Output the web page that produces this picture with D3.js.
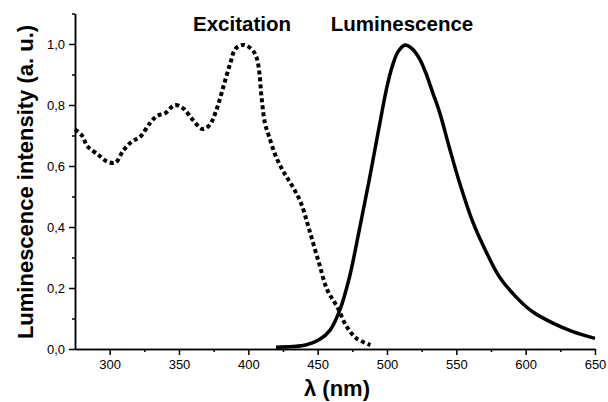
<!DOCTYPE html>
<html>
<head>
<meta charset="utf-8">
<script src="https://cdn.jsdelivr.net/npm/d3@7"></script>
<style>
  body { margin: 0; background: #fff; }
  svg { display: block; font-family: "Liberation Sans", Arial, sans-serif; }
  .axis path, .axis line { stroke: #000; stroke-width: 1.5; }
  .axis text { font-size: 13px; fill: #000; }
</style>
</head>
<body>
<svg width="608" height="402"></svg>
<script>
// excitation spectrum (dashed)
const excWavelength = [275, 280, 284, 292, 298, 304, 310, 316, 322, 329, 334, 340, 347, 353, 360, 367, 372, 377, 382, 387, 391, 397, 403, 406, 408, 409.5, 412, 415, 420, 426, 432, 438, 444, 451, 457, 464, 471, 478, 488]
const excIntensity  = [0.72, 0.70, 0.665, 0.636, 0.615, 0.611, 0.652, 0.68, 0.696, 0.74, 0.764, 0.773, 0.80, 0.789, 0.751, 0.721, 0.734, 0.784, 0.86, 0.937, 0.986, 0.997, 0.98, 0.955, 0.904, 0.827, 0.74, 0.696, 0.63, 0.576, 0.532, 0.478, 0.39, 0.281, 0.193, 0.139, 0.073, 0.035, 0.013]

// luminescence spectrum (solid)
const lumWavelength = [420, 432, 442, 451, 459, 466, 473, 480, 487, 494, 500, 504, 508, 513, 518, 523, 528, 533, 538, 545, 552, 562, 572, 581, 593, 605, 620, 634, 650]
const lumIntensity  = [0.006, 0.008, 0.014, 0.03, 0.062, 0.128, 0.237, 0.39, 0.55, 0.72, 0.86, 0.93, 0.975, 0.997, 0.985, 0.955, 0.905, 0.84, 0.775, 0.66, 0.55, 0.415, 0.314, 0.237, 0.171, 0.122, 0.084, 0.057, 0.035]

const xMajor = [300, 350, 400, 450, 500, 550, 600, 650]
const xMinor = [325, 375, 425, 475, 525, 575, 625]
const yMajor = [0, 0.2, 0.4, 0.6, 0.8, 1.0]
const yMinor = [0.1, 0.3, 0.5, 0.7, 0.9, 1.1]

const svg = d3.select('svg')

const x = d3.scaleLinear().domain([275, 650]).range([75, 595])
const y = d3.scaleLinear().domain([0, 1.1]).range([349, 13.5])

const comma = v => d3.format('.1f')(v).replace('.', ',')

// minor ticks first, then major axis on top
svg.append('g').attr('class', 'axis')
  .attr('transform', 'translate(0,349)')
  .call(d3.axisBottom(x).tickValues(xMinor).tickSize(3).tickSizeOuter(0).tickFormat(''))
svg.append('g').attr('class', 'axis')
  .attr('transform', 'translate(0,349)')
  .call(d3.axisBottom(x).tickValues(xMajor).tickSize(6).tickSizeOuter(0).tickPadding(5).tickFormat(d3.format('d')))

svg.append('g').attr('class', 'axis')
  .attr('transform', 'translate(75,0)')
  .call(d3.axisLeft(y).tickValues(yMinor).tickSize(3).tickSizeOuter(0).tickFormat(''))
svg.append('g').attr('class', 'axis')
  .attr('transform', 'translate(75,0)')
  .call(d3.axisLeft(y).tickValues(yMajor).tickSize(6).tickSizeOuter(0).tickPadding(4).tickFormat(comma))

const line = d3.line()
  .x(d => x(d[0]))
  .y(d => y(d[1]))
  .curve(d3.curveCatmullRom)

svg.append('path')
  .datum(d3.zip(excWavelength, excIntensity))
  .attr('d', line)
  .attr('fill', 'none')
  .attr('stroke', '#000')
  .attr('stroke-width', 4)
  .attr('stroke-dasharray', '4,3')

svg.append('path')
  .datum(d3.zip(lumWavelength, lumIntensity))
  .attr('d', line)
  .attr('fill', 'none')
  .attr('stroke', '#000')
  .attr('stroke-width', 3.5)
  .attr('stroke-linejoin', 'round')

// curve labels
svg.append('text').attr('x', 242).attr('y', 31)
  .attr('text-anchor', 'middle').attr('font-weight', 'bold').attr('font-size', 20.5)
  .text('Excitation')
svg.append('text').attr('x', 402).attr('y', 31)
  .attr('text-anchor', 'middle').attr('font-weight', 'bold').attr('font-size', 20.5)
  .text('Luminescence')

// axis titles
svg.append('text').attr('x', 337).attr('y', 396)
  .attr('text-anchor', 'middle').attr('font-weight', 'bold').attr('font-size', 22)
  .text('λ (nm)')
svg.append('text')
  .attr('transform', 'translate(33,182) rotate(-90)')
  .attr('text-anchor', 'middle').attr('font-weight', 'bold').attr('font-size', 22)
  .text('Luminescence intensity (a. u.)')
</script>
</body>
</html>
